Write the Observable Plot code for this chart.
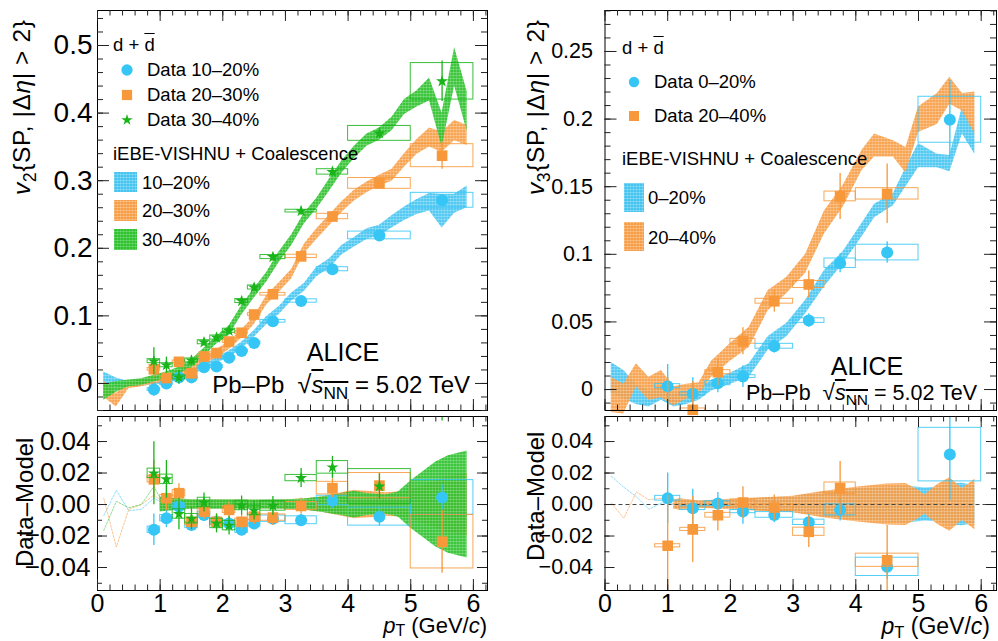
<!DOCTYPE html>
<html><head><meta charset="utf-8">
<script src="https://cdn.jsdelivr.net/npm/d3@7"></script>
<script src="https://cdn.jsdelivr.net/npm/@observablehq/plot@0.6"></script>
<style>
body{margin:0;background:#fff;font-family:"Liberation Sans",Arial,sans-serif;}
#wrap{position:relative;width:998px;height:641px;overflow:hidden;background:#fff;}
.t{position:absolute;white-space:nowrap;line-height:1;color:#000;font-family:"Liberation Sans",Arial,sans-serif;}
.t sub{font-size:0.72em;vertical-align:-0.32em;line-height:0;}
.t.xt sub{vertical-align:-0.22em;}
.ov{text-decoration:overline;}
.rot{transform-origin:0 0;transform:rotate(-90deg);}
</style></head><body>
<svg width="0" height="0" style="position:absolute">
<defs>
<pattern id="pB" width="3" height="3" patternUnits="userSpaceOnUse"><rect width="3" height="3" fill="#45c4f0"/><rect width="3" height="0.7" fill="#ffffff" fill-opacity="0.35"/><rect width="0.7" height="3" fill="#ffffff" fill-opacity="0.25"/></pattern>
<pattern id="pO" width="3" height="3" patternUnits="userSpaceOnUse"><rect width="3" height="3" fill="#f79d45"/><rect width="3" height="0.7" fill="#ffffff" fill-opacity="0.35"/><rect width="0.7" height="3" fill="#ffffff" fill-opacity="0.25"/></pattern>
<pattern id="pG" width="3" height="3" patternUnits="userSpaceOnUse"><rect width="3" height="3" fill="#2ec22e"/><rect width="3" height="0.7" fill="#ffffff" fill-opacity="0.3"/><rect width="0.7" height="3" fill="#ffffff" fill-opacity="0.2"/></pattern>
</defs></svg>
<div id="wrap"></div>
<script>
// ---------------- DATA ----------------
// v2 (left), pT bins
const v2Pt    = [0.9,1.1,1.3,1.5,1.7,1.9,2.1,2.3,2.5,2.8,3.25,3.75,4.5,5.5];
const v2BinLo = [0.8,1.0,1.2,1.4,1.6,1.8,2.0,2.2,2.4,2.6,3.0,3.5,4.0,5.0];
const v2BinHi = [1.0,1.2,1.4,1.6,1.8,2.0,2.2,2.4,2.6,3.0,3.5,4.0,5.0,6.0];
const v2Data1020 = [-0.009,0.0,0.009,0.009,0.024,0.025,0.038,0.048,0.060,0.092,0.122,0.169,0.219,0.271];
const v2Stat1020 = [0.010,0.006,0.005,0.004,0.004,0.004,0.004,0.004,0.004,0.004,0.004,0.005,0.006,0.008];
const v2Syst1020 = [0.002,0.002,0.002,0.002,0.002,0.002,0.002,0.002,0.002,0.002,0.0025,0.003,0.0057,0.011];
const v2Data2030 = [0.021,0.008,0.032,0.015,0.040,0.045,0.062,0.075,0.102,0.132,0.188,0.247,0.296,0.337];
const v2Stat2030 = [0.012,0.008,0.006,0.005,0.005,0.005,0.005,0.005,0.005,0.005,0.005,0.006,0.008,0.020];
const v2Syst2030 = [0.002,0.002,0.002,0.002,0.002,0.002,0.002,0.002,0.002,0.002,0.0025,0.004,0.008,0.017];
const v2Data3040 = [0.033,0.027,0.009,0.034,0.061,0.068,0.078,0.122,0.142,0.187,0.255,0.313,0.370,0.447];
const v2Stat3040 = [0.020,0.012,0.010,0.007,0.006,0.006,0.006,0.006,0.006,0.006,0.006,0.007,0.008,0.030];
const v2Syst3040 = [0.003,0.003,0.003,0.003,0.003,0.003,0.003,0.003,0.003,0.003,0.002,0.004,0.011,0.027];
// Data - Model (v2)
const v2Diff1020 = [-0.016,-0.0087,-0.0013,-0.013,-0.0066,-0.011,-0.012,-0.016,-0.012,-0.009,-0.010,0.0026,-0.0077,0.0045];
const v2Diff2030 = [0.016,0.004,0.0072,-0.011,-0.0045,-0.011,-0.0034,-0.011,-0.0077,-0.0083,-0.0009,0.0104,0.012,-0.0236];
const v2Diff3040 = [0.0198,0.016,-0.006,-0.009,0.0013,-0.012,-0.0134,-0.0006,-0.0038,-0.0009,0.0168,0.0236,0.0115,0.083];
// model bands v2
const v2BandPt = [0.1,0.3,0.5,0.7,0.9,1.1,1.3,1.5,1.7,1.9,2.1,2.3,2.5,2.7,2.9,3.1,3.3,3.5,3.7,3.9,4.1,4.3,4.5,4.7,4.9,5.1,5.3,5.5,5.7,5.9];
const v2Band1020Lo = [0.001,-0.004,-0.005,-0.004,-0.002,0.000,0.005,0.013,0.020,0.030,0.038,0.051,0.068,0.087,0.102,0.122,0.136,0.158,0.170,0.190,0.202,0.213,0.218,0.230,0.241,0.250,0.255,0.230,0.252,0.260];
const v2Band1020Hi = [0.017,0.008,0.003,0.004,0.006,0.008,0.013,0.021,0.028,0.038,0.048,0.061,0.078,0.099,0.114,0.134,0.148,0.172,0.184,0.204,0.216,0.229,0.234,0.248,0.261,0.272,0.281,0.280,0.280,0.292];
const v2Band2030Lo = [-0.020,-0.035,-0.008,-0.005,-0.001,0.003,0.009,0.017,0.028,0.038,0.050,0.067,0.087,0.116,0.135,0.155,0.192,0.213,0.233,0.253,0.270,0.282,0.292,0.299,0.320,0.339,0.350,0.342,0.359,0.352];
const v2Band2030Hi = [0.004,-0.015,0.002,0.005,0.009,0.013,0.019,0.027,0.038,0.050,0.062,0.079,0.099,0.130,0.149,0.169,0.206,0.229,0.249,0.269,0.286,0.298,0.308,0.317,0.340,0.361,0.378,0.372,0.389,0.382];
const v2Band3040Lo = [-0.025,-0.013,-0.005,-0.003,0.002,0.007,0.014,0.023,0.040,0.058,0.071,0.101,0.126,0.150,0.179,0.204,0.236,0.258,0.284,0.311,0.333,0.351,0.360,0.374,0.398,0.409,0.418,0.350,0.440,0.373];
const v2Band3040Hi = [-0.001,0.003,0.005,0.007,0.012,0.017,0.024,0.035,0.052,0.070,0.085,0.115,0.140,0.164,0.195,0.220,0.252,0.274,0.302,0.329,0.351,0.369,0.378,0.394,0.420,0.433,0.452,0.400,0.497,0.432];
// model uncertainty in Data-Model panel (v2), half widths
const v2DiffBandPt = [1.0,1.2,1.5,2.0,2.5,3.0,3.3,3.6,3.9,4.1,4.3,4.6,4.8,5.0,5.2,5.4,5.6,5.9];
const v2DiffBand1020 = [0.0035,0.003,0.0025,0.0025,0.0025,0.0028,0.003,0.0045,0.0065,0.0075,0.0065,0.0055,0.007,0.009,0.011,0.013,0.014,0.015];
const v2DiffBand2030 = [0.004,0.0035,0.0028,0.0028,0.0027,0.003,0.0035,0.005,0.0075,0.009,0.0085,0.0075,0.008,0.009,0.012,0.015,0.018,0.020];
const v2DiffBand3040 = [0.0048,0.004,0.003,0.003,0.0028,0.003,0.0035,0.005,0.007,0.0085,0.007,0.006,0.008,0.015,0.021,0.027,0.031,0.034];
const v2DiffLowPt = [0.1,0.3,0.5,0.7,0.9,1.0];
const v2DiffLow1020 = [-0.007,0.009,-0.004,-0.003,0.004,0.002];
const v2DiffLow2030 = [0.004,-0.027,-0.003,0.0,0.006,0.003];
const v2DiffLow3040 = [-0.0165,0.002,-0.002,0.0,0.0115,0.004];

// v3 (right)
const v3Pt    = [1.0,1.4,1.8,2.2,2.7,3.25,3.75,4.5,5.5];
const v3BinLo = [0.8,1.2,1.6,2.0,2.4,3.0,3.5,4.0,5.0];
const v3BinHi = [1.2,1.6,2.0,2.4,3.0,3.5,4.0,5.0,6.0];
const v3Data020  = [0.0025,-0.0032,0.0047,0.0096,0.032,0.051,0.0934,0.1013,0.1995];
const v3Stat020  = [0.016,0.012,0.007,0.008,0.005,0.005,0.007,0.008,0.029];
const v3Syst020  = [0.0015,0.0012,0.0015,0.001,0.0018,0.0017,0.0035,0.0058,0.017];
const v3Data2040 = [-0.023,-0.015,0.0128,0.0357,0.0653,0.0777,0.1428,0.1447,null];
const v3Stat2040 = [0.032,0.021,0.010,0.010,0.008,0.010,0.017,0.022,null];
const v3Syst2040 = [0.001,0.001,0.0015,0.0018,0.0018,0.0026,0.0036,0.0042,null];
const v3Diff020  = [0.004,-0.0023,0.0006,-0.0045,-0.0066,-0.0113,-0.0034,-0.0396,0.0317];
const v3Diff2040 = [-0.0262,-0.0158,-0.0068,0.0013,-0.0019,-0.0173,0.0104,-0.0354,null];
const v3BandPt = [0.1,0.3,0.5,0.7,0.9,1.1,1.3,1.5,1.7,2.0,2.3,2.6,2.9,3.2,3.5,3.8,4.1,4.3,4.6,4.8,5.0,5.3,5.5,5.7,5.9];
const v3Band020Lo  = [-0.003,-0.007,-0.011,-0.013,-0.008,-0.013,-0.011,-0.008,-0.001,0.004,0.009,0.029,0.039,0.056,0.076,0.093,0.113,0.127,0.136,0.150,0.164,0.164,0.161,0.189,0.174];
const v3Band020Hi  = [0.020,0.014,0.004,-0.001,0.002,-0.003,-0.001,0.000,0.007,0.012,0.019,0.039,0.049,0.066,0.088,0.102,0.123,0.137,0.145,0.164,0.182,0.174,0.173,0.209,0.192];
const v3Band2040Lo = [-0.017,-0.018,0.002,-0.008,-0.006,-0.012,-0.007,-0.004,0.009,0.021,0.031,0.058,0.071,0.086,0.115,0.135,0.162,0.172,0.172,0.160,0.190,0.196,0.211,0.206,0.189];
const v3Band2040Hi = [0.009,0.004,0.019,0.009,0.014,0.002,0.004,0.005,0.021,0.034,0.046,0.073,0.083,0.100,0.132,0.151,0.177,0.189,0.184,0.179,0.209,0.219,0.231,0.219,0.220];
const v3DiffBandPt = [1.1,1.2,1.5,2.0,2.5,3.0,3.5,4.0,4.5,4.8,5.0,5.1,5.3,5.5,5.7,5.9];
const v3DiffBand020  = [0.003,0.0033,0.002,0.003,0.004,0.005,0.008,0.010,0.011,0.0115,0.011,0.0105,0.011,0.013,0.0135,0.012];
const v3DiffBand2040 = [0.003,0.0037,0.0023,0.0033,0.0043,0.0053,0.0085,0.011,0.013,0.0133,0.009,0.006,0.0125,0.017,0.010,0.016];
const v3DiffLowPt = [0.1,0.3,0.5,0.7,0.9,1.1];
const v3DiffLow020  = [0.018,0.011,0.005,-0.003,0.001,0.0];
const v3DiffLow2040 = [0.001,-0.0087,0.008,0.003,0.004,0.0];

// tick labels
const xTicks = [0,1,2,3,4,5,6];
const v2Ticks = [0,0.1,0.2,0.3,0.4,0.5];
const v3Ticks = [0,0.05,0.1,0.15,0.2,0.25];
const diffTicks = [-0.04,-0.02,0,0.02,0.04];

// colours
const cBlue = "#36c6f6", cOrange = "#f7983a", cGreen = "#18b418";

// ---------------- HELPERS ----------------
const wrap = document.getElementById("wrap");
const FONT = "Liberation Sans, Arial, sans-serif";

function frameTicks(xMaj, xMin, yMaj, yMin, fh, fw, xl, yl) {
  const s = {stroke: "#222", strokeWidth: 1};
  return [
    Plot.tickX(xMaj, {x: d => d, insetTop: fh - xl[0], ...s}),
    Plot.tickX(xMaj, {x: d => d, insetBottom: fh - xl[0], ...s}),
    Plot.tickX(xMin, {x: d => d, insetTop: fh - xl[1], ...s}),
    Plot.tickX(xMin, {x: d => d, insetBottom: fh - xl[1], ...s}),
    Plot.tickY(yMaj, {y: d => d, insetRight: fw - yl[0], ...s}),
    Plot.tickY(yMaj, {y: d => d, insetLeft: fw - yl[0], ...s}),
    Plot.tickY(yMin, {y: d => d, insetRight: fw - yl[1], ...s}),
    Plot.tickY(yMin, {y: d => d, insetLeft: fw - yl[1], ...s})
  ];
}
function band(px, lo, hi, fill, opacity = 0.92) {
  return Plot.areaY(d3.range(px.length), {x: i => px[i], y1: i => lo[i], y2: i => hi[i], fill, fillOpacity: opacity, curve: "linear"});
}
function symBand(px, hw, fill, opacity = 0.92) {
  return Plot.areaY(d3.range(px.length), {x: i => px[i], y1: i => -hw[i], y2: i => hw[i], fill, fillOpacity: opacity, curve: "linear"});
}
function series(pt, lo, hi, y, e, s, color, symbol, r, ydom, clipAll) {
  const all = d3.range(pt.length).filter(i => y[i] != null);
  const inside = all.filter(i => y[i] >= ydom[0] && y[i] <= ydom[1]);
  return [
    Plot.rect(all, {x1: i => lo[i], x2: i => hi[i], y1: i => y[i] - s[i], y2: i => y[i] + s[i], fill: "none", stroke: color, strokeWidth: 1, strokeOpacity: 0.85, clip: true}),
    Plot.ruleX(all, {x: i => pt[i], y1: i => y[i] - e[i], y2: i => y[i] + e[i], stroke: color, strokeWidth: 1.3, clip: true}),
    Plot.dot(inside, {x: i => pt[i], y: i => y[i], symbol, r, fill: color, clip: clipAll})
  ];
}
function place(svg, left, top) {
  svg.style.position = "absolute";
  svg.style.left = left + "px";
  svg.style.top = top + "px";
  wrap.appendChild(svg);
}
const xMinor = d3.range(0, 6.21, 0.2);
const STAR_R = 3.8;

// ---------------- TOP LEFT: v2 ----------------
{
  const ydom = [-0.04, 0.5518];
  const fh = 400, fw = 390;
  const svg = Plot.plot({
    width: 498, height: 412, marginLeft: 97, marginRight: 11, marginTop: 10, marginBottom: 2,
    x: {domain: [0, 6.225]}, y: {domain: ydom},
    style: {overflow: "visible", background: "transparent", fontFamily: FONT},
    marks: [
      band(v2BandPt, v2Band1020Lo, v2Band1020Hi, "url(#pB)"),
      band(v2BandPt, v2Band2030Lo, v2Band2030Hi, "url(#pO)"),
      band(v2BandPt, v2Band3040Lo, v2Band3040Hi, "url(#pG)"),
      ...series(v2Pt, v2BinLo, v2BinHi, v2Data1020, v2Stat1020, v2Syst1020, cBlue, "circle", 6, ydom, false),
      ...series(v2Pt, v2BinLo, v2BinHi, v2Data2030, v2Stat2030, v2Syst2030, cOrange, "square", 6, ydom, false),
      ...series(v2Pt, v2BinLo, v2BinHi, v2Data3040, v2Stat3040, v2Syst3040, cGreen, "star", STAR_R, ydom, false),
      Plot.frame({stroke: "#000"}),
      ...frameTicks(xTicks, xMinor, v2Ticks, d3.range(-0.04, 0.551, 0.02), fh, fw, [11, 5.5], [12, 6]),
      Plot.axisY({ticks: v2Ticks, tickSize: 0, tickPadding: 5, fontSize: 28, label: null, tickFormat: d => String(d)}),
      Plot.axisX({ticks: [], label: null})
    ]
  });
  place(svg, 0, 0);
}
// ---------------- BOTTOM LEFT: v2 Data-Model ----------------
{
  const ydom = [-0.0546, 0.0559];
  const fh = 174, fw = 390;
  const svg = Plot.plot({
    width: 498, height: 229, marginLeft: 97, marginRight: 11, marginTop: 4, marginBottom: 51,
    x: {domain: [0, 6.225]}, y: {domain: ydom},
    style: {overflow: "visible", background: "transparent", fontFamily: FONT},
    marks: [
      Plot.lineY(d3.range(v2DiffLowPt.length), {x: i => v2DiffLowPt[i], y: i => v2DiffLow1020[i], stroke: cBlue, strokeWidth: 0.8, strokeDasharray: "2,1.5", strokeOpacity: 0.7}),
      Plot.lineY(d3.range(v2DiffLowPt.length), {x: i => v2DiffLowPt[i], y: i => v2DiffLow2030[i], stroke: cOrange, strokeWidth: 0.8, strokeDasharray: "2,1.5", strokeOpacity: 0.7}),
      Plot.lineY(d3.range(v2DiffLowPt.length), {x: i => v2DiffLowPt[i], y: i => v2DiffLow3040[i], stroke: cGreen, strokeWidth: 0.8, strokeDasharray: "2,1.5", strokeOpacity: 0.6}),
      symBand(v2DiffBandPt, v2DiffBand1020, "url(#pB)"),
      symBand(v2DiffBandPt, v2DiffBand2030, "url(#pO)"),
      symBand(v2DiffBandPt, v2DiffBand3040, "url(#pG)"),
      ...series(v2Pt, v2BinLo, v2BinHi, v2Diff1020, v2Stat1020, v2Syst1020, cBlue, "circle", 6, ydom, true),
      ...series(v2Pt, v2BinLo, v2BinHi, v2Diff2030, v2Stat2030, v2Syst2030, cOrange, "square", 6, ydom, true),
      ...series(v2Pt, v2BinLo, v2BinHi, v2Diff3040, v2Stat3040, v2Syst3040, cGreen, "star", STAR_R, ydom, true),
      Plot.frame({stroke: "#000"}),
      ...frameTicks(xTicks, xMinor, diffTicks, d3.range(-0.05, 0.0551, 0.01), fh, fw, [11, 5.5], [10, 5]),
      Plot.axisY({ticks: diffTicks, tickSize: 0, tickPadding: 7, fontSize: 26, label: null, tickFormat: d3.format(".2f")}),
      Plot.axisX({ticks: xTicks, tickSize: 0, tickPadding: 4, fontSize: 25, label: null, tickFormat: d => String(d)})
    ]
  });
  place(svg, 0, 412);
}
// ---------------- TOP RIGHT: v3 ----------------
{
  const ydom = [-0.0155, 0.2803];
  const fh = 400, fw = 391.5;
  const svg = Plot.plot({
    width: 498, height: 412, marginLeft: 104.5, marginRight: 2, marginTop: 10, marginBottom: 2,
    x: {domain: [0, 6.244]}, y: {domain: ydom},
    style: {overflow: "visible", background: "transparent", fontFamily: FONT},
    marks: [
      band(v3BandPt, v3Band020Lo, v3Band020Hi, "url(#pB)"),
      band(v3BandPt, v3Band2040Lo, v3Band2040Hi, "url(#pO)"),
      ...series(v3Pt, v3BinLo, v3BinHi, v3Data020, v3Stat020, v3Syst020, cBlue, "circle", 6, ydom, false),
      ...series(v3Pt, v3BinLo, v3BinHi, v3Data2040, v3Stat2040, v3Syst2040, cOrange, "square", 6, ydom, false),
      Plot.frame({stroke: "#000"}),
      ...frameTicks(xTicks, xMinor, v3Ticks, d3.range(-0.01, 0.2801, 0.01), fh, fw, [11, 5.5], [12, 6]),
      Plot.axisY({ticks: v3Ticks, tickSize: 0, tickPadding: 12, fontSize: 21.5, label: null, tickFormat: d => String(d)}),
      Plot.axisX({ticks: [], label: null})
    ]
  });
  place(svg, 500, 0);
}
// ---------------- BOTTOM RIGHT: v3 Data-Model ----------------
{
  const ydom = [-0.0546, 0.0559];
  const fh = 174, fw = 391.5;
  const svg = Plot.plot({
    width: 498, height: 229, marginLeft: 104.5, marginRight: 2, marginTop: 4, marginBottom: 51,
    x: {domain: [0, 6.244]}, y: {domain: ydom},
    style: {overflow: "visible", background: "transparent", fontFamily: FONT},
    marks: [
      Plot.lineY(d3.range(v3DiffLowPt.length), {x: i => v3DiffLowPt[i], y: i => v3DiffLow020[i], stroke: cBlue, strokeWidth: 0.8, strokeDasharray: "2,1.5", strokeOpacity: 0.7}),
      Plot.lineY(d3.range(v3DiffLowPt.length), {x: i => v3DiffLowPt[i], y: i => v3DiffLow2040[i], stroke: cOrange, strokeWidth: 0.8, strokeDasharray: "2,1.5", strokeOpacity: 0.7}),
      symBand(v3DiffBandPt, v3DiffBand020, "url(#pB)"),
      symBand(v3DiffBandPt, v3DiffBand2040, "url(#pO)"),
      Plot.ruleY([0], {stroke: "#444", strokeDasharray: "4,3", strokeWidth: 1}),
      ...series(v3Pt, v3BinLo, v3BinHi, v3Diff020, v3Stat020, v3Syst020, cBlue, "circle", 6, ydom, true),
      ...series(v3Pt, v3BinLo, v3BinHi, v3Diff2040, v3Stat2040, v3Syst2040, cOrange, "square", 6, ydom, true),
      Plot.frame({stroke: "#000"}),
      ...frameTicks(xTicks, xMinor, diffTicks, d3.range(-0.05, 0.0551, 0.01), fh, fw, [11, 5.5], [10, 5]),
      Plot.axisY({ticks: diffTicks, tickSize: 0, tickPadding: 12, fontSize: 21.5, label: null, tickFormat: d3.format(".2f")}),
      Plot.axisX({ticks: xTicks, tickSize: 0, tickPadding: 4, fontSize: 25, label: null, tickFormat: d => String(d)})
    ]
  });
  place(svg, 500, 412);
}

// ---------------- LEGENDS & ANNOTATIONS ----------------
const ns = "http://www.w3.org/2000/svg";
const ov = document.createElementNS(ns, "svg");
ov.setAttribute("width", 998); ov.setAttribute("height", 641);
ov.style.position = "absolute"; ov.style.left = "0"; ov.style.top = "0";
wrap.appendChild(ov);
function el(tag, attrs) { const e = document.createElementNS(ns, tag); for (const k in attrs) e.setAttribute(k, attrs[k]); ov.appendChild(e); return e; }
function sym(type, x, y, size, color) {
  el("path", {d: d3.symbol(type, size)(), transform: `translate(${x},${y})`, fill: color});
}
// top-left legend symbols
sym(d3.symbolCircle, 127, 70, 100, cBlue);
sym(d3.symbolSquare, 127, 95, 105, cOrange);
sym(d3.symbolStar, 127, 120, 40, cGreen);
el("rect", {x: 114, y: 172, width: 23, height: 20, fill: "url(#pB)"});
el("rect", {x: 114, y: 200, width: 23, height: 21, fill: "url(#pO)"});
el("rect", {x: 114, y: 229, width: 23, height: 21, fill: "url(#pG)"});
// top-right legend symbols
sym(d3.symbolCircle, 634, 82, 85, cBlue);
sym(d3.symbolSquare, 634, 116, 100, cOrange);
el("rect", {x: 624, y: 183, width: 20, height: 29, fill: "url(#pB)"});
el("rect", {x: 624, y: 222, width: 20, height: 29, fill: "url(#pO)"});

function txt(html, x, yc, size, cls = "", anchor = "start") {
  const d = document.createElement("div");
  d.className = "t " + cls;
  d.style.fontSize = size + "px";
  d.innerHTML = html;
  d.style.top = (yc - size * 0.5) + "px";
  d.style.left = x + "px";
  if (anchor === "middle") d.style.transform = "translateX(-50%)";
  if (anchor === "end") d.style.transform = "translateX(-100%)";
  wrap.appendChild(d);
  return d;
}
function rtxt(html, xLeft, yBottom, size, spacing = 0) {
  const d = document.createElement("div");
  d.className = "t rot";
  d.style.fontSize = size + "px";
  d.style.letterSpacing = spacing + "px";
  d.innerHTML = html;
  d.style.left = xLeft + "px";
  d.style.top = yBottom + "px";
  wrap.appendChild(d);
}
const dbar = 'd + <span class="ov">d</span>';
const sqrtS = 'Pb–Pb&nbsp; <span style="font-size:1.05em">√</span><span class="ov"><i>s</i><sub>NN</sub></span> = 5.02 TeV';
const ptLabel = '<i>p</i><sub>T</sub> (GeV/<i>c</i>)';

txt(dbar, 113, 45, 18.5);
txt("Data 10–20%", 147, 70, 18.5);
txt("Data 20–30%", 147, 95, 18.5);
txt("Data 30–40%", 147, 120, 18.5);
txt("iEBE-VISHNU + Coalescence", 113, 154, 18.5);
txt("10–20%", 142, 183, 18.5);
txt("20–30%", 142, 211, 18.5);
txt("30–40%", 142, 240, 18.5);
txt("ALICE", 343, 352, 25, "", "middle");
txt(sqrtS, 470, 384, 24, "", "end");

txt(dbar, 622, 48, 18.5);
txt("Data 0–20%", 654, 82, 18.5);
txt("Data 20–40%", 654, 116, 18.5);
txt("iEBE-VISHNU + Coalescence", 622, 159, 18.5);
txt("0–20%", 648, 198, 18.5);
txt("20–40%", 648, 238, 18.5);
txt("ALICE", 867, 366, 25, "", "middle");
txt(sqrtS, 977, 393, 21.5, "", "end");

txt(ptLabel, 487, 626, 22, "xt", "end");
txt(ptLabel, 990, 626, 23, "xt", "end");

rtxt('<i>v</i><sub>2</sub>{SP, |Δ<i>η</i>| &gt; 2}', 10, 195, 24.5, 0.6);
rtxt('<i>v</i><sub>3</sub>{SP, |Δ<i>η</i>| &gt; 2}', 524, 195, 24.5, 0.6);
rtxt('Data–Model', 13, 567, 24);
rtxt('Data–Model', 524, 561, 24);
</script></body></html>
